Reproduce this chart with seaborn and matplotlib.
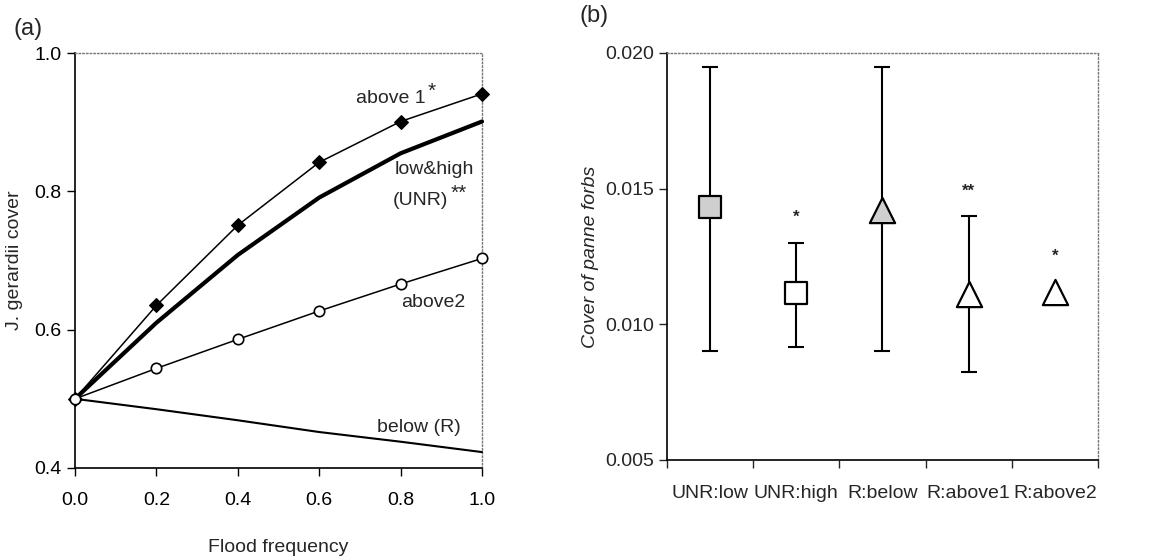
import numpy as np
import pandas as pd
import seaborn as sns
import matplotlib
matplotlib.use("Agg")
import matplotlib.pyplot as plt

# ---- data panel (a)
flood = [0.0, 0.2, 0.4, 0.6, 0.8, 1.0]
above1 = [0.50, 0.635, 0.751, 0.842, 0.901, 0.941]
lowhigh = [0.50, 0.610, 0.708, 0.791, 0.855, 0.901]
above2 = [0.50, 0.544, 0.586, 0.627, 0.666, 0.703]
below = [0.50, 0.485, 0.469, 0.452, 0.438, 0.423]

# ---- data panel (b)
groups = ["UNR:low", "UNR:high", "R:below", "R:above1", "R:above2"]
means = [0.01433, 0.01115, 0.0142, 0.0111, 0.0112]
upper = [0.0195, 0.0130, 0.0195, 0.0140, np.nan]
lower = [0.0090, 0.00917, 0.0090, 0.00824, np.nan]
stars = ["", "*", "", "**", "*"]
star_y = [np.nan, 0.01396, np.nan, 0.0149, 0.0125]

sns.set_theme(style="ticks")
plt.rcParams["font.family"] = ["Liberation Sans", "DejaVu Sans"]

fig = plt.figure(figsize=(11.52, 5.6), dpi=100)
axa = fig.add_axes([0.0651, 0.1643, 0.3533, 0.741])
axb = fig.add_axes([0.579, 0.1786, 0.3741, 0.7268])

fs = 14

# panel (a)
df = pd.DataFrame({
    "x": flood * 4,
    "y": above1 + lowhigh + above2 + below,
    "s": ["above1"] * 6 + ["lowhigh"] * 6 + ["above2"] * 6 + ["below"] * 6,
})
sns.lineplot(data=df[df.s == "below"], x="x", y="y", ax=axa, color="black", lw=1.5)
sns.lineplot(data=df[df.s == "lowhigh"], x="x", y="y", ax=axa, color="black", lw=3.0)
sns.lineplot(data=df[df.s == "above1"], x="x", y="y", ax=axa, color="black", lw=1.1,
             marker="D", markersize=7, markerfacecolor="black", markeredgecolor="black")
sns.lineplot(data=df[df.s == "above2"], x="x", y="y", ax=axa, color="black", lw=1.1,
             marker="o", markersize=7.5, markerfacecolor="white", markeredgecolor="black",
             markeredgewidth=1.2)
for k, ln in enumerate(axa.lines):
    ln.set_clip_on(False)
    ln.set_zorder(3 + k)
axa.set_xlim(0, 1.0)
axa.set_ylim(0.4, 1.0)
axa.set_xticks(flood)
axa.set_xticklabels([f"{v:.1f}" for v in flood])
axa.set_yticks([0.4, 0.6, 0.8, 1.0])
axa.set_yticklabels(["0.4", "0.6", "0.8", "1.0"])
axa.set_xlabel("Flood frequency", fontsize=fs, labelpad=22)
axa.set_ylabel("J. gerardii cover", fontsize=fs, labelpad=8)
axa.tick_params(labelsize=fs, direction="out", length=6, width=1, colors="black")
axa.tick_params(axis="x", pad=11)

axa.text(0.862, 0.934, "above 1", fontsize=fs, ha="right", va="center")
axa.text(0.866, 0.944, "*", fontsize=15, ha="left", va="center")
axa.text(0.882, 0.832, "low&high", fontsize=fs, ha="center", va="center")
axa.text(0.918, 0.787, "(UNR)", fontsize=fs, ha="right", va="center")
axa.text(0.922, 0.797, "**", fontsize=15, ha="left", va="center")
axa.text(0.88, 0.640, "above2", fontsize=fs, ha="center", va="center")
axa.text(0.845, 0.459, "below (R)", fontsize=fs, ha="center", va="center")
fig.text(0.012, 0.948, "(a)", fontsize=17, ha="left", va="center")

# panel (b)
xpos = np.arange(len(groups))
for i in range(len(groups)):
    if not np.isnan(upper[i]):
        axb.errorbar(xpos[i], means[i],
                     yerr=[[means[i] - lower[i]], [upper[i] - means[i]]],
                     fmt="none", ecolor="black", elinewidth=1.5, capsize=6, capthick=1.5, zorder=1)
dfb = pd.DataFrame({"g": groups, "x": xpos, "m": means,
                    "kind": ["sq", "sq", "tri", "tri", "tri"],
                    "fill": ["grey", "white", "grey", "white", "white"]})
for _, r in dfb.iterrows():
    sns.scatterplot(x=[r.x], y=[r.m], ax=axb,
                    marker="s" if r.kind == "sq" else "^",
                    s=230 if r.kind == "sq" else 330,
                    color="#cfcfcf" if r.fill == "grey" else "white",
                    edgecolor="black", linewidth=1.6, zorder=3, legend=False)
for i in range(len(groups)):
    if stars[i]:
        axb.text(xpos[i], star_y[i], stars[i], fontsize=12, ha="center", va="center",
                 fontweight="bold")
axb.set_xlim(-0.5, 4.5)
axb.set_ylim(0.005, 0.020)
axb.set_yticks([0.005, 0.010, 0.015, 0.020])
axb.set_yticklabels(["0.005", "0.010", "0.015", "0.020"])
axb.set_xticks(np.arange(-0.5, 5.0, 1.0))
axb.set_xticklabels([])
axb.set_xticks(xpos, minor=True)
axb.set_xticklabels(groups, minor=True)
axb.tick_params(axis="x", which="minor", length=0, pad=18, labelsize=fs)
axb.tick_params(axis="x", which="major", length=6, width=1, direction="out")
axb.tick_params(axis="y", labelsize=fs, length=6, width=1, direction="out")
axb.set_ylabel("Cover of panne forbs", fontsize=fs, fontstyle="italic", labelpad=4)
axb.set_xlabel("")
fig.text(0.503, 0.972, "(b)", fontsize=17, ha="left", va="center")

for ax in (axa, axb):
    for sp in ("top", "right"):
        ax.spines[sp].set_visible(True)
        ax.spines[sp].set_linestyle(":")
        ax.spines[sp].set_color("#777777")
        ax.spines[sp].set_linewidth(1.0)
    for sp in ("left", "bottom"):
        ax.spines[sp].set_color("black")
        ax.spines[sp].set_linewidth(1.2)

fig.savefig("out.png", dpi=100, facecolor="white")
